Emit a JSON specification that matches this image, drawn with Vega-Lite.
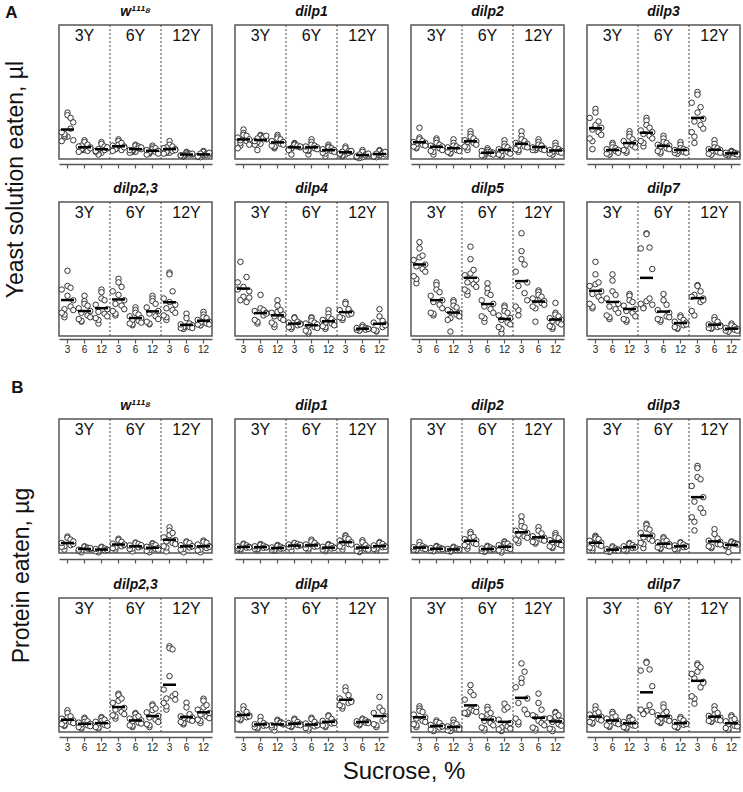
{
  "$schema": "https://vega.github.io/schema/vega-lite/v6.json",
  "padding": {"left": 5, "top": 4, "right": 2, "bottom": 2},
  "title": {"text": "Sucrose, %", "orient": "bottom", "anchor": "middle", "fontSize": 24, "fontWeight": "normal", "dx": 30, "offset": 8},
  "datasets": {
    "yeast": [
      {"gene": "w¹¹¹⁸", "age": "3Y", "cat": "3Y|3", "v": [5.2, 2.4, 4.6, 3.0, 2.1, 4.9, 2.6, 3.4, 2.0, 4.1, 2.5, 2.8]},
      {"gene": "w¹¹¹⁸", "age": "3Y", "cat": "3Y|6", "v": [2.1, 1.0, 1.6, 0.8, 1.3, 1.9, 1.1, 0.9, 1.4, 1.2, 1.0, 1.5]},
      {"gene": "w¹¹¹⁸", "age": "3Y", "cat": "3Y|12", "v": [1.9, 0.6, 1.4, 0.8, 1.2, 1.7, 0.5, 1.0, 0.9, 1.3, 0.7, 1.1]},
      {"gene": "w¹¹¹⁸", "age": "6Y", "cat": "6Y|3", "v": [2.2, 1.1, 1.8, 0.9, 1.4, 2.0, 1.2, 1.0, 1.5, 1.3, 1.6, 1.1]},
      {"gene": "w¹¹¹⁸", "age": "6Y", "cat": "6Y|6", "v": [1.6, 0.8, 1.4, 0.7, 1.1, 1.5, 0.9, 1.2, 1.0, 1.3, 0.8, 1.0]},
      {"gene": "w¹¹¹⁸", "age": "6Y", "cat": "6Y|12", "v": [1.5, 0.6, 1.2, 0.5, 0.9, 1.3, 0.7, 0.8, 1.0, 0.6, 1.1, 0.8]},
      {"gene": "w¹¹¹⁸", "age": "12Y", "cat": "12Y|3", "v": [2.0, 0.7, 1.4, 0.6, 1.1, 1.6, 0.8, 0.9, 1.2, 1.0, 0.7, 1.3]},
      {"gene": "w¹¹¹⁸", "age": "12Y", "cat": "12Y|6", "v": [0.8, 0.3, 0.6, 0.4, 0.5, 0.7, 0.3, 0.5, 0.4, 0.6, 0.5, 0.4]},
      {"gene": "w¹¹¹⁸", "age": "12Y", "cat": "12Y|12", "v": [0.9, 0.2, 0.6, 0.3, 0.5, 0.8, 0.4, 0.5, 0.3, 0.7, 0.4, 0.6]},
      {"gene": "dilp1", "age": "3Y", "cat": "3Y|3", "v": [3.3, 1.5, 2.6, 1.2, 2.2, 2.9, 1.8, 2.0, 2.4, 1.6, 2.7, 2.1]},
      {"gene": "dilp1", "age": "3Y", "cat": "3Y|6", "v": [2.7, 1.0, 2.5, 1.6, 2.2, 2.6, 1.9, 2.4, 2.0, 2.6, 1.7, 2.3]},
      {"gene": "dilp1", "age": "3Y", "cat": "3Y|12", "v": [2.7, 1.2, 2.2, 1.5, 1.9, 2.5, 1.3, 1.7, 2.0, 1.6, 2.3, 1.4]},
      {"gene": "dilp1", "age": "6Y", "cat": "6Y|3", "v": [1.8, 0.5, 1.4, 1.1, 1.3, 1.7, 1.2, 1.5, 1.0, 1.4, 1.6, 1.2]},
      {"gene": "dilp1", "age": "6Y", "cat": "6Y|6", "v": [2.2, 0.5, 1.5, 1.0, 1.3, 1.9, 0.9, 1.2, 1.4, 1.1, 1.6, 1.0]},
      {"gene": "dilp1", "age": "6Y", "cat": "6Y|12", "v": [1.6, 0.3, 1.2, 0.7, 1.0, 1.4, 0.6, 0.9, 1.1, 0.8, 1.3, 0.9]},
      {"gene": "dilp1", "age": "12Y", "cat": "12Y|3", "v": [1.4, 0.3, 0.9, 0.5, 0.8, 1.2, 0.4, 0.7, 0.6, 0.9, 0.5, 0.8]},
      {"gene": "dilp1", "age": "12Y", "cat": "12Y|6", "v": [1.0, 0.1, 0.5, 0.2, 0.4, 0.8, 0.3, 0.4, 0.3, 0.6, 0.2, 0.5]},
      {"gene": "dilp1", "age": "12Y", "cat": "12Y|12", "v": [1.0, 0.2, 0.7, 0.3, 0.5, 0.9, 0.4, 0.6, 0.3, 0.8, 0.4, 0.6]},
      {"gene": "dilp2", "age": "3Y", "cat": "3Y|3", "v": [3.5, 1.2, 2.0, 1.4, 1.8, 2.4, 1.3, 1.6, 1.9, 1.5, 2.2, 1.7]},
      {"gene": "dilp2", "age": "3Y", "cat": "3Y|6", "v": [2.3, 0.5, 1.6, 0.9, 1.4, 2.1, 0.8, 1.2, 1.5, 1.0, 1.8, 1.3]},
      {"gene": "dilp2", "age": "3Y", "cat": "3Y|12", "v": [2.2, 0.6, 1.4, 0.8, 1.2, 1.8, 0.7, 1.0, 1.3, 0.9, 1.5, 1.1]},
      {"gene": "dilp2", "age": "6Y", "cat": "6Y|3", "v": [3.1, 1.0, 2.3, 1.4, 2.0, 2.8, 1.3, 1.8, 2.1, 1.6, 2.5, 1.9]},
      {"gene": "dilp2", "age": "6Y", "cat": "6Y|6", "v": [1.2, 0.3, 0.8, 0.4, 0.7, 1.0, 0.5, 0.6, 0.9, 0.5, 0.8, 0.7]},
      {"gene": "dilp2", "age": "6Y", "cat": "6Y|12", "v": [2.1, 0.3, 1.3, 0.5, 1.0, 1.7, 0.4, 0.8, 1.1, 0.6, 1.4, 0.9]},
      {"gene": "dilp2", "age": "12Y", "cat": "12Y|3", "v": [3.1, 0.8, 2.0, 1.1, 1.7, 2.6, 1.0, 1.4, 1.8, 1.3, 2.2, 1.5]},
      {"gene": "dilp2", "age": "12Y", "cat": "12Y|6", "v": [2.2, 1.0, 1.5, 1.0, 1.2, 1.9, 1.0, 1.1, 1.3, 1.0, 1.6, 1.2]},
      {"gene": "dilp2", "age": "12Y", "cat": "12Y|12", "v": [1.8, 0.5, 1.1, 0.6, 0.9, 1.5, 0.5, 0.8, 1.0, 0.7, 1.2, 0.8]},
      {"gene": "dilp3", "age": "3Y", "cat": "3Y|3", "v": [5.6, 1.1, 4.2, 2.3, 3.5, 5.2, 2.0, 3.0, 4.6, 2.7, 3.8, 3.3]},
      {"gene": "dilp3", "age": "3Y", "cat": "3Y|6", "v": [1.8, 0.5, 1.2, 0.6, 1.0, 1.6, 0.5, 0.9, 1.1, 0.7, 1.3, 0.8]},
      {"gene": "dilp3", "age": "3Y", "cat": "3Y|12", "v": [3.1, 0.7, 2.2, 1.0, 1.8, 2.8, 0.9, 1.5, 2.0, 1.3, 2.5, 1.6]},
      {"gene": "dilp3", "age": "6Y", "cat": "6Y|3", "v": [4.6, 1.4, 3.5, 2.0, 3.0, 4.3, 1.8, 2.6, 3.2, 2.3, 3.8, 2.8]},
      {"gene": "dilp3", "age": "6Y", "cat": "6Y|6", "v": [2.6, 0.6, 1.8, 0.9, 1.5, 2.3, 0.8, 1.2, 1.6, 1.1, 1.9, 1.4]},
      {"gene": "dilp3", "age": "6Y", "cat": "6Y|12", "v": [1.9, 0.6, 1.1, 0.7, 1.0, 1.6, 0.6, 0.8, 1.0, 0.7, 1.2, 0.9]},
      {"gene": "dilp3", "age": "12Y", "cat": "12Y|3", "v": [7.5, 1.8, 5.8, 3.0, 4.5, 7.2, 2.5, 3.8, 6.3, 3.4, 5.2, 4.2]},
      {"gene": "dilp3", "age": "12Y", "cat": "12Y|6", "v": [2.1, 0.5, 1.2, 0.6, 1.0, 1.7, 0.5, 0.8, 1.1, 0.7, 1.3, 0.9]},
      {"gene": "dilp3", "age": "12Y", "cat": "12Y|12", "v": [0.9, 0.4, 0.7, 0.5, 0.6, 0.9, 0.4, 0.6, 0.7, 0.5, 0.8, 0.6]},
      {"gene": "dilp2,3", "age": "3Y", "cat": "3Y|3", "v": [7.3, 2.1, 5.4, 2.6, 4.0, 5.6, 2.4, 3.3, 5.2, 2.9, 4.5, 3.0]},
      {"gene": "dilp2,3", "age": "3Y", "cat": "3Y|6", "v": [4.5, 1.6, 3.4, 1.9, 2.8, 3.9, 1.7, 2.3, 3.1, 2.1, 3.6, 2.6]},
      {"gene": "dilp2,3", "age": "3Y", "cat": "3Y|12", "v": [5.2, 1.4, 4.0, 2.0, 3.0, 4.9, 1.8, 2.5, 3.5, 2.2, 4.2, 2.7]},
      {"gene": "dilp2,3", "age": "6Y", "cat": "6Y|3", "v": [6.4, 2.3, 5.5, 2.8, 4.0, 6.0, 2.5, 3.4, 5.0, 3.0, 4.6, 3.6]},
      {"gene": "dilp2,3", "age": "6Y", "cat": "6Y|6", "v": [3.2, 1.2, 2.4, 1.4, 2.0, 2.9, 1.3, 1.7, 2.2, 1.5, 2.6, 1.8]},
      {"gene": "dilp2,3", "age": "6Y", "cat": "6Y|12", "v": [4.5, 1.3, 3.6, 1.6, 2.8, 4.2, 1.4, 2.2, 3.2, 1.9, 3.9, 2.5]},
      {"gene": "dilp2,3", "age": "12Y", "cat": "12Y|3", "v": [7.1, 1.8, 5.0, 2.3, 3.5, 6.9, 2.1, 2.9, 4.2, 2.6, 3.8, 3.1]},
      {"gene": "dilp2,3", "age": "12Y", "cat": "12Y|6", "v": [2.5, 0.8, 1.4, 0.9, 1.2, 2.0, 0.8, 1.0, 1.3, 0.9, 1.1, 1.0]},
      {"gene": "dilp2,3", "age": "12Y", "cat": "12Y|12", "v": [2.7, 1.2, 2.0, 1.3, 1.6, 2.4, 1.2, 1.4, 1.8, 1.3, 2.1, 1.5]},
      {"gene": "dilp4", "age": "3Y", "cat": "3Y|3", "v": [4.4, 8.3, 3.8, 6.0, 4.3, 5.5, 4.0, 6.6, 5.2, 5.0]},
      {"gene": "dilp4", "age": "3Y", "cat": "3Y|6", "v": [4.6, 1.4, 2.9, 1.8, 2.6, 3.1, 1.6, 2.3, 2.8, 2.5]},
      {"gene": "dilp4", "age": "3Y", "cat": "3Y|12", "v": [4.0, 1.0, 2.9, 1.5, 2.4, 3.4, 1.3, 2.0, 2.6, 1.8, 2.7, 2.2]},
      {"gene": "dilp4", "age": "6Y", "cat": "6Y|3", "v": [2.1, 0.8, 1.6, 1.0, 1.4, 2.0, 1.0, 1.2, 1.5, 1.3]},
      {"gene": "dilp4", "age": "6Y", "cat": "6Y|6", "v": [2.1, 0.3, 1.5, 0.6, 1.3, 2.0, 0.5, 1.0, 1.4, 0.9, 1.7, 1.2]},
      {"gene": "dilp4", "age": "6Y", "cat": "6Y|12", "v": [2.9, 0.8, 1.9, 1.1, 1.6, 2.5, 1.0, 1.4, 1.8, 1.2, 2.1, 1.5]},
      {"gene": "dilp4", "age": "12Y", "cat": "12Y|3", "v": [3.8, 1.8, 3.0, 2.1, 2.6, 3.6, 2.0, 2.4, 2.9, 2.5]},
      {"gene": "dilp4", "age": "12Y", "cat": "12Y|6", "v": [1.2, 0.6, 0.9, 0.7, 0.8, 1.0, 0.6, 0.7, 0.9, 0.8]},
      {"gene": "dilp4", "age": "12Y", "cat": "12Y|12", "v": [3.0, 0.5, 1.7, 0.7, 1.3, 2.2, 0.6, 1.0, 1.5, 1.2]},
      {"gene": "dilp5", "age": "3Y", "cat": "3Y|3", "v": [10.5, 5.9, 9.0, 6.7, 8.0, 9.8, 6.4, 7.5, 8.5, 7.2, 8.8, 7.8]},
      {"gene": "dilp5", "age": "3Y", "cat": "3Y|6", "v": [6.0, 2.3, 4.9, 2.6, 4.0, 5.7, 2.5, 3.5, 4.5, 3.1, 5.2, 3.8]},
      {"gene": "dilp5", "age": "3Y", "cat": "3Y|12", "v": [4.0, 0.5, 3.2, 1.8, 2.6, 3.8, 2.0, 2.4, 2.9, 2.2, 3.4, 2.7]},
      {"gene": "dilp5", "age": "6Y", "cat": "6Y|3", "v": [10.0, 4.6, 7.4, 5.2, 6.3, 8.6, 5.0, 5.8, 6.8, 5.5, 7.0, 6.0]},
      {"gene": "dilp5", "age": "6Y", "cat": "6Y|6", "v": [5.9, 1.6, 4.6, 2.2, 3.6, 5.3, 2.0, 3.0, 4.0, 2.6, 4.8, 3.3]},
      {"gene": "dilp5", "age": "6Y", "cat": "6Y|12", "v": [3.4, 0.3, 2.6, 1.0, 2.0, 3.2, 0.8, 1.5, 2.3, 1.3, 2.8, 1.8]},
      {"gene": "dilp5", "age": "12Y", "cat": "12Y|3", "v": [11.5, 2.3, 8.0, 3.3, 6.0, 9.5, 2.9, 4.8, 7.2, 4.0, 8.6, 5.6]},
      {"gene": "dilp5", "age": "12Y", "cat": "12Y|6", "v": [5.1, 1.6, 4.4, 3.3, 3.9, 4.9, 3.1, 3.7, 4.2, 3.5, 4.6, 4.0]},
      {"gene": "dilp5", "age": "12Y", "cat": "12Y|12", "v": [3.7, 0.8, 2.2, 1.1, 1.8, 2.6, 1.0, 1.5, 2.0, 1.3, 2.4, 1.7]},
      {"gene": "dilp7", "age": "3Y", "cat": "3Y|3", "v": [8.3, 3.1, 6.0, 3.6, 5.0, 6.9, 3.3, 4.4, 5.6, 4.0, 5.8, 4.7]},
      {"gene": "dilp7", "age": "3Y", "cat": "3Y|6", "v": [6.9, 1.9, 4.6, 2.3, 3.6, 6.2, 2.1, 3.0, 4.2, 2.6, 5.0, 3.3]},
      {"gene": "dilp7", "age": "3Y", "cat": "3Y|12", "v": [4.7, 1.6, 3.8, 1.9, 3.0, 4.5, 1.8, 2.6, 3.4, 2.2, 4.0, 2.8]},
      {"gene": "dilp7", "age": "6Y", "cat": "6Y|3", "v": [11.5, 3.2, 9.9, 3.6, 7.5, 11.4, 3.1, 4.2, 9.8, 3.5, 3.9]},
      {"gene": "dilp7", "age": "6Y", "cat": "6Y|6", "v": [4.7, 1.6, 3.5, 1.9, 2.6, 4.0, 1.8, 2.2, 2.9, 2.1]},
      {"gene": "dilp7", "age": "6Y", "cat": "6Y|12", "v": [2.3, 0.8, 1.8, 1.0, 1.5, 2.1, 0.9, 1.2, 1.6, 1.3]},
      {"gene": "dilp7", "age": "12Y", "cat": "12Y|3", "v": [5.7, 2.3, 5.0, 2.8, 4.2, 5.6, 4.6, 3.8, 4.4, 4.0]},
      {"gene": "dilp7", "age": "12Y", "cat": "12Y|6", "v": [2.1, 0.8, 1.6, 0.9, 1.2, 1.8, 0.9, 1.0, 1.3, 1.1]},
      {"gene": "dilp7", "age": "12Y", "cat": "12Y|12", "v": [1.4, 0.5, 1.0, 0.6, 0.8, 1.2, 0.5, 0.7, 0.9, 0.6]}
    ],
    "protein": [
      {"gene": "w¹¹¹⁸", "age": "3Y", "cat": "3Y|3", "v": [74, 15, 60, 28, 40, 68, 30, 35, 45, 52]},
      {"gene": "w¹¹¹⁸", "age": "3Y", "cat": "3Y|6", "v": [30, 3, 24, 10, 18, 28, 12, 20, 15, 22]},
      {"gene": "w¹¹¹⁸", "age": "3Y", "cat": "3Y|12", "v": [28, 3, 20, 8, 15, 25, 10, 12, 18, 14]},
      {"gene": "w¹¹¹⁸", "age": "6Y", "cat": "6Y|3", "v": [64, 15, 50, 22, 36, 58, 25, 30, 42, 38]},
      {"gene": "w¹¹¹⁸", "age": "6Y", "cat": "6Y|6", "v": [47, 7, 40, 18, 30, 44, 20, 25, 34, 35]},
      {"gene": "w¹¹¹⁸", "age": "6Y", "cat": "6Y|12", "v": [44, 3, 35, 10, 22, 40, 12, 18, 28, 15, 30, 25]},
      {"gene": "w¹¹¹⁸", "age": "12Y", "cat": "12Y|3", "v": [115, 7, 90, 30, 58, 100, 25, 45, 70, 40, 80, 52]},
      {"gene": "w¹¹¹⁸", "age": "12Y", "cat": "12Y|6", "v": [52, 3, 44, 15, 30, 48, 18, 25, 35, 30]},
      {"gene": "w¹¹¹⁸", "age": "12Y", "cat": "12Y|12", "v": [56, 3, 46, 12, 30, 50, 15, 22, 38, 28]},
      {"gene": "dilp1", "age": "3Y", "cat": "3Y|3", "v": [42, 12, 34, 20, 27, 38, 18, 24, 30, 25]},
      {"gene": "dilp1", "age": "3Y", "cat": "3Y|6", "v": [40, 12, 33, 19, 26, 36, 18, 23, 30, 25]},
      {"gene": "dilp1", "age": "3Y", "cat": "3Y|12", "v": [36, 10, 28, 15, 22, 32, 14, 19, 25, 21]},
      {"gene": "dilp1", "age": "6Y", "cat": "6Y|3", "v": [45, 12, 40, 25, 34, 44, 28, 30, 38, 36]},
      {"gene": "dilp1", "age": "6Y", "cat": "6Y|6", "v": [60, 12, 45, 22, 34, 52, 20, 28, 38, 30]},
      {"gene": "dilp1", "age": "6Y", "cat": "6Y|12", "v": [40, 8, 32, 15, 24, 36, 14, 20, 28, 23]},
      {"gene": "dilp1", "age": "12Y", "cat": "12Y|3", "v": [79, 15, 62, 30, 48, 75, 28, 40, 56, 38, 66, 45]},
      {"gene": "dilp1", "age": "12Y", "cat": "12Y|6", "v": [57, 4, 35, 10, 24, 48, 8, 18, 28, 15, 22, 20]},
      {"gene": "dilp1", "age": "12Y", "cat": "12Y|12", "v": [49, 12, 40, 18, 30, 45, 20, 26, 34, 28]},
      {"gene": "dilp2", "age": "3Y", "cat": "3Y|3", "v": [49, 12, 30, 15, 24, 35, 14, 20, 26, 18]},
      {"gene": "dilp2", "age": "3Y", "cat": "3Y|6", "v": [32, 8, 24, 12, 19, 28, 10, 16, 22, 18]},
      {"gene": "dilp2", "age": "3Y", "cat": "3Y|12", "v": [28, 6, 20, 10, 16, 24, 9, 13, 18, 15]},
      {"gene": "dilp2", "age": "6Y", "cat": "6Y|3", "v": [94, 19, 72, 35, 56, 85, 30, 45, 62, 40, 68, 50]},
      {"gene": "dilp2", "age": "6Y", "cat": "6Y|6", "v": [32, 5, 24, 10, 18, 28, 8, 15, 20, 17]},
      {"gene": "dilp2", "age": "6Y", "cat": "6Y|12", "v": [52, 2, 42, 12, 30, 48, 10, 22, 35, 18, 40, 28]},
      {"gene": "dilp2", "age": "12Y", "cat": "12Y|3", "v": [164, 45, 115, 60, 90, 140, 55, 75, 100, 68, 120, 82]},
      {"gene": "dilp2", "age": "12Y", "cat": "12Y|6", "v": [116, 42, 88, 50, 68, 100, 48, 60, 75, 55]},
      {"gene": "dilp2", "age": "12Y", "cat": "12Y|12", "v": [89, 22, 66, 30, 50, 80, 28, 40, 58, 35, 70, 48]},
      {"gene": "dilp3", "age": "3Y", "cat": "3Y|3", "v": [77, 12, 62, 25, 46, 72, 22, 38, 55, 32, 65, 44]},
      {"gene": "dilp3", "age": "3Y", "cat": "3Y|6", "v": [30, 5, 20, 8, 15, 25, 7, 12, 17, 11]},
      {"gene": "dilp3", "age": "3Y", "cat": "3Y|12", "v": [45, 8, 35, 15, 27, 40, 14, 22, 30, 25]},
      {"gene": "dilp3", "age": "6Y", "cat": "6Y|3", "v": [131, 22, 105, 45, 78, 125, 40, 62, 90, 55, 110, 70]},
      {"gene": "dilp3", "age": "6Y", "cat": "6Y|6", "v": [71, 18, 55, 25, 40, 65, 22, 34, 48, 30, 52, 38]},
      {"gene": "dilp3", "age": "6Y", "cat": "6Y|12", "v": [48, 12, 38, 18, 30, 45, 20, 26, 34, 29]},
      {"gene": "dilp3", "age": "12Y", "cat": "12Y|3", "v": [390, 101, 330, 160, 250, 380, 140, 200, 300, 180, 340, 230]},
      {"gene": "dilp3", "age": "12Y", "cat": "12Y|6", "v": [107, 22, 65, 30, 50, 85, 28, 40, 55, 38]},
      {"gene": "dilp3", "age": "12Y", "cat": "12Y|12", "v": [52, 4, 45, 30, 40, 48, 28, 42, 35, 38]},
      {"gene": "dilp2,3", "age": "3Y", "cat": "3Y|3", "v": [97, 27, 70, 35, 52, 85, 32, 45, 60, 40, 65, 50]},
      {"gene": "dilp2,3", "age": "3Y", "cat": "3Y|6", "v": [64, 15, 48, 22, 36, 58, 20, 30, 42, 26, 45, 34]},
      {"gene": "dilp2,3", "age": "3Y", "cat": "3Y|12", "v": [67, 15, 55, 22, 40, 62, 20, 32, 46, 28, 50, 38]},
      {"gene": "dilp2,3", "age": "6Y", "cat": "6Y|3", "v": [172, 60, 150, 75, 108, 165, 70, 90, 130, 80, 140, 100]},
      {"gene": "dilp2,3", "age": "6Y", "cat": "6Y|6", "v": [85, 22, 70, 30, 52, 80, 28, 42, 60, 38, 65, 48]},
      {"gene": "dilp2,3", "age": "6Y", "cat": "6Y|12", "v": [124, 22, 105, 35, 72, 118, 30, 55, 88, 45, 98, 65]},
      {"gene": "dilp2,3", "age": "12Y", "cat": "12Y|3", "v": [384, 100, 370, 130, 170, 250, 115, 160, 190, 145, 375, 150]},
      {"gene": "dilp2,3", "age": "12Y", "cat": "12Y|6", "v": [131, 34, 80, 45, 65, 110, 40, 55, 70, 50, 60, 62]},
      {"gene": "dilp2,3", "age": "12Y", "cat": "12Y|12", "v": [149, 40, 120, 55, 85, 140, 50, 70, 100, 62, 110, 78]},
      {"gene": "dilp4", "age": "3Y", "cat": "3Y|3", "v": [115, 52, 90, 60, 74, 100, 58, 66, 80, 70]},
      {"gene": "dilp4", "age": "3Y", "cat": "3Y|6", "v": [67, 15, 40, 22, 32, 50, 20, 28, 35, 30]},
      {"gene": "dilp4", "age": "3Y", "cat": "3Y|12", "v": [55, 7, 45, 20, 34, 50, 22, 40, 30, 38]},
      {"gene": "dilp4", "age": "6Y", "cat": "6Y|3", "v": [60, 22, 45, 28, 36, 55, 26, 32, 40, 30]},
      {"gene": "dilp4", "age": "6Y", "cat": "6Y|6", "v": [64, 7, 45, 18, 33, 58, 15, 25, 38, 30]},
      {"gene": "dilp4", "age": "6Y", "cat": "6Y|12", "v": [75, 22, 58, 30, 44, 70, 28, 38, 50, 40]},
      {"gene": "dilp4", "age": "12Y", "cat": "12Y|3", "v": [200, 105, 165, 120, 140, 185, 115, 130, 150, 135]},
      {"gene": "dilp4", "age": "12Y", "cat": "12Y|6", "v": [60, 30, 52, 38, 45, 56, 35, 42, 48, 40]},
      {"gene": "dilp4", "age": "12Y", "cat": "12Y|12", "v": [157, 22, 95, 35, 70, 110, 30, 50, 85, 60]},
      {"gene": "dilp5", "age": "3Y", "cat": "3Y|3", "v": [115, 22, 90, 35, 65, 105, 30, 50, 78, 45, 95, 60]},
      {"gene": "dilp5", "age": "3Y", "cat": "3Y|6", "v": [52, 4, 40, 12, 26, 45, 10, 20, 32, 25]},
      {"gene": "dilp5", "age": "3Y", "cat": "3Y|12", "v": [55, 4, 35, 8, 20, 42, 6, 15, 25, 12, 30, 18]},
      {"gene": "dilp5", "age": "6Y", "cat": "6Y|3", "v": [210, 80, 165, 85, 110, 180, 82, 95, 145, 90, 100, 88]},
      {"gene": "dilp5", "age": "6Y", "cat": "6Y|6", "v": [112, 7, 85, 20, 58, 100, 15, 40, 70, 30, 78, 50]},
      {"gene": "dilp5", "age": "6Y", "cat": "6Y|12", "v": [127, 4, 110, 12, 40, 100, 8, 25, 55, 15, 30, 20]},
      {"gene": "dilp5", "age": "12Y", "cat": "12Y|3", "v": [307, 34, 270, 60, 150, 240, 45, 100, 200, 80, 220, 130]},
      {"gene": "dilp5", "age": "12Y", "cat": "12Y|6", "v": [172, 7, 100, 20, 60, 130, 15, 40, 75, 30, 50, 68]},
      {"gene": "dilp5", "age": "12Y", "cat": "12Y|12", "v": [90, 4, 75, 15, 50, 85, 12, 35, 62, 28, 68, 45]},
      {"gene": "dilp7", "age": "3Y", "cat": "3Y|3", "v": [115, 37, 88, 45, 68, 100, 42, 58, 78, 52, 82, 62]},
      {"gene": "dilp7", "age": "3Y", "cat": "3Y|6", "v": [90, 22, 70, 30, 50, 82, 28, 40, 60, 35, 65, 48]},
      {"gene": "dilp7", "age": "3Y", "cat": "3Y|12", "v": [67, 15, 55, 22, 38, 62, 20, 30, 45, 28, 50, 40]},
      {"gene": "dilp7", "age": "6Y", "cat": "6Y|3", "v": [315, 85, 280, 100, 205, 310, 80, 120, 275, 90, 95]},
      {"gene": "dilp7", "age": "6Y", "cat": "6Y|6", "v": [124, 40, 90, 48, 65, 110, 45, 55, 75, 50, 80, 60]},
      {"gene": "dilp7", "age": "6Y", "cat": "6Y|12", "v": [67, 19, 52, 25, 38, 60, 22, 32, 45, 36]},
      {"gene": "dilp7", "age": "12Y", "cat": "12Y|3", "v": [307, 127, 290, 160, 225, 300, 150, 200, 260, 220, 270, 240]},
      {"gene": "dilp7", "age": "12Y", "cat": "12Y|6", "v": [115, 45, 85, 50, 65, 100, 48, 55, 72, 52, 78, 60]},
      {"gene": "dilp7", "age": "12Y", "cat": "12Y|12", "v": [75, 10, 58, 18, 38, 68, 15, 28, 48, 25, 52, 35]}
    ]
  },
  "vconcat": [
    {
      "title": {"text": "A", "anchor": "start", "fontSize": 17, "fontWeight": "bold", "offset": -17},
      "vconcat": [
        {
          "title": {"text": "Yeast solution eaten, µl", "orient": "left", "anchor": "middle", "fontSize": 23, "fontWeight": "normal", "offset": 28},
          "spacing": 13,
          "vconcat": [
            {
              "data": {"name": "yeast"},
              "transform": [{"filter": {"field": "gene", "oneOf": ["w¹¹¹⁸", "dilp1", "dilp2", "dilp3"]}}],
              "facet": {"column": {"field": "gene", "type": "nominal", "sort": ["w¹¹¹⁸", "dilp1", "dilp2", "dilp3"], "header": {"title": null}}},
              "spacing": {"column": 17},
              "spec": {
                "width": 153,
                "height": 134,
                "encoding": {
                  "x": {"field": "cat", "type": "nominal", "scale": {"domain": ["3Y|3", "3Y|6", "3Y|12", "6Y|3", "6Y|6", "6Y|12", "12Y|3", "12Y|6", "12Y|12"], "paddingInner": 0, "paddingOuter": 0}, "axis": {"title": null, "labels": false}}
                },
                "layer": [
                  {"transform": [{"filter": {"field": "cat", "oneOf": ["3Y|12", "6Y|12"]}}], "mark": {"type": "rule", "strokeDash": [2, 2], "color": "#444", "strokeWidth": 1},
                   "encoding": {"x": {"field": "cat", "type": "nominal", "bandPosition": 1, "scale": {"domain": ["3Y|3", "3Y|6", "3Y|12", "6Y|3", "6Y|6", "6Y|12", "12Y|3", "12Y|6", "12Y|12"], "paddingInner": 0, "paddingOuter": 0}, "axis": {"title": null, "labels": false}}}},
                  {"transform": [{"filter": {"field": "cat", "oneOf": ["3Y|6", "6Y|6", "12Y|6"]}}], "mark": {"type": "text", "fontSize": 16, "baseline": "top", "dy": 3, "color": "#111"},
                   "encoding": {"y": {"datum": 15, "type": "quantitative", "axis": null}, "text": {"field": "age"}}},
                  {"transform": [{"flatten": ["v"]}, {"window": [{"op": "row_number", "as": "rep"}], "groupby": ["gene", "cat"]}, {"filter": {"field": "rep", "oneOf": [1, 6, 11]}}], "mark": {"type": "circle", "fill": "white", "stroke": "#333", "strokeWidth": 1, "size": 30, "opacity": 1},
                   "encoding": {"x": {"field": "cat", "type": "nominal", "bandPosition": 0.5, "scale": {"domain": ["3Y|3", "3Y|6", "3Y|12", "6Y|3", "6Y|6", "6Y|12", "12Y|3", "12Y|6", "12Y|12"], "paddingInner": 0, "paddingOuter": 0}, "axis": {"title": null, "labels": false}}, "y": {"field": "v", "type": "quantitative", "scale": {"domain": [0, 15], "nice": false}, "axis": {"title": null, "values": [0, 5, 10, 15]}}}},
                  {"transform": [{"flatten": ["v"]}, {"window": [{"op": "row_number", "as": "rep"}], "groupby": ["gene", "cat"]}, {"filter": {"field": "rep", "oneOf": [2, 7, 12]}}], "mark": {"type": "circle", "fill": "white", "stroke": "#333", "strokeWidth": 1, "size": 30, "opacity": 1},
                   "encoding": {"x": {"field": "cat", "type": "nominal", "bandPosition": 0.32, "scale": {"domain": ["3Y|3", "3Y|6", "3Y|12", "6Y|3", "6Y|6", "6Y|12", "12Y|3", "12Y|6", "12Y|12"], "paddingInner": 0, "paddingOuter": 0}, "axis": {"title": null, "labels": false}}, "y": {"field": "v", "type": "quantitative", "axis": {"title": null, "values": [0, 5, 10, 15]}}}},
                  {"transform": [{"flatten": ["v"]}, {"window": [{"op": "row_number", "as": "rep"}], "groupby": ["gene", "cat"]}, {"filter": {"field": "rep", "oneOf": [3, 8]}}], "mark": {"type": "circle", "fill": "white", "stroke": "#333", "strokeWidth": 1, "size": 30, "opacity": 1},
                   "encoding": {"x": {"field": "cat", "type": "nominal", "bandPosition": 0.68, "scale": {"domain": ["3Y|3", "3Y|6", "3Y|12", "6Y|3", "6Y|6", "6Y|12", "12Y|3", "12Y|6", "12Y|12"], "paddingInner": 0, "paddingOuter": 0}, "axis": {"title": null, "labels": false}}, "y": {"field": "v", "type": "quantitative", "axis": {"title": null, "values": [0, 5, 10, 15]}}}},
                  {"transform": [{"flatten": ["v"]}, {"window": [{"op": "row_number", "as": "rep"}], "groupby": ["gene", "cat"]}, {"filter": {"field": "rep", "oneOf": [4, 9]}}], "mark": {"type": "circle", "fill": "white", "stroke": "#333", "strokeWidth": 1, "size": 30, "opacity": 1},
                   "encoding": {"x": {"field": "cat", "type": "nominal", "bandPosition": 0.16, "scale": {"domain": ["3Y|3", "3Y|6", "3Y|12", "6Y|3", "6Y|6", "6Y|12", "12Y|3", "12Y|6", "12Y|12"], "paddingInner": 0, "paddingOuter": 0}, "axis": {"title": null, "labels": false}}, "y": {"field": "v", "type": "quantitative", "axis": {"title": null, "values": [0, 5, 10, 15]}}}},
                  {"transform": [{"flatten": ["v"]}, {"window": [{"op": "row_number", "as": "rep"}], "groupby": ["gene", "cat"]}, {"filter": {"field": "rep", "oneOf": [5, 10]}}], "mark": {"type": "circle", "fill": "white", "stroke": "#333", "strokeWidth": 1, "size": 30, "opacity": 1},
                   "encoding": {"x": {"field": "cat", "type": "nominal", "bandPosition": 0.84, "scale": {"domain": ["3Y|3", "3Y|6", "3Y|12", "6Y|3", "6Y|6", "6Y|12", "12Y|3", "12Y|6", "12Y|12"], "paddingInner": 0, "paddingOuter": 0}, "axis": {"title": null, "labels": false}}, "y": {"field": "v", "type": "quantitative", "axis": {"title": null, "values": [0, 5, 10, 15]}}}},
                  {"transform": [{"flatten": ["v"]}], "mark": {"type": "tick", "color": "black", "thickness": 2.5, "size": 13},
                   "encoding": {"y": {"aggregate": "mean", "field": "v", "type": "quantitative", "axis": null}}}
                ]
              }
            },
            {
              "data": {"name": "yeast"},
              "transform": [{"filter": {"field": "gene", "oneOf": ["dilp2,3", "dilp4", "dilp5", "dilp7"]}}],
              "facet": {"column": {"field": "gene", "type": "nominal", "sort": ["dilp2,3", "dilp4", "dilp5", "dilp7"], "header": {"title": null}}},
              "spacing": {"column": 17},
              "spec": {
                "width": 153,
                "height": 134,
                "encoding": {
                  "x": {"field": "cat", "type": "nominal", "scale": {"domain": ["3Y|3", "3Y|6", "3Y|12", "6Y|3", "6Y|6", "6Y|12", "12Y|3", "12Y|6", "12Y|12"], "paddingInner": 0, "paddingOuter": 0}, "axis": {"title": null, "labelAngle": 0, "labelExpr": "split(datum.value, '|')[1]"}}
                },
                "layer": [
                  {"transform": [{"filter": {"field": "cat", "oneOf": ["3Y|12", "6Y|12"]}}], "mark": {"type": "rule", "strokeDash": [2, 2], "color": "#444", "strokeWidth": 1},
                   "encoding": {"x": {"field": "cat", "type": "nominal", "bandPosition": 1, "scale": {"domain": ["3Y|3", "3Y|6", "3Y|12", "6Y|3", "6Y|6", "6Y|12", "12Y|3", "12Y|6", "12Y|12"], "paddingInner": 0, "paddingOuter": 0}, "axis": {"title": null, "labelAngle": 0, "labelExpr": "split(datum.value, '|')[1]"}}}},
                  {"transform": [{"filter": {"field": "cat", "oneOf": ["3Y|6", "6Y|6", "12Y|6"]}}], "mark": {"type": "text", "fontSize": 16, "baseline": "top", "dy": 3, "color": "#111"},
                   "encoding": {"y": {"datum": 15, "type": "quantitative", "axis": null}, "text": {"field": "age"}}},
                  {"transform": [{"flatten": ["v"]}, {"window": [{"op": "row_number", "as": "rep"}], "groupby": ["gene", "cat"]}, {"filter": {"field": "rep", "oneOf": [1, 6, 11]}}], "mark": {"type": "circle", "fill": "white", "stroke": "#333", "strokeWidth": 1, "size": 30, "opacity": 1},
                   "encoding": {"x": {"field": "cat", "type": "nominal", "bandPosition": 0.5, "scale": {"domain": ["3Y|3", "3Y|6", "3Y|12", "6Y|3", "6Y|6", "6Y|12", "12Y|3", "12Y|6", "12Y|12"], "paddingInner": 0, "paddingOuter": 0}, "axis": {"title": null, "labelAngle": 0, "labelExpr": "split(datum.value, '|')[1]"}}, "y": {"field": "v", "type": "quantitative", "scale": {"domain": [0, 15], "nice": false}, "axis": {"title": null, "values": [0, 5, 10, 15]}}}},
                  {"transform": [{"flatten": ["v"]}, {"window": [{"op": "row_number", "as": "rep"}], "groupby": ["gene", "cat"]}, {"filter": {"field": "rep", "oneOf": [2, 7, 12]}}], "mark": {"type": "circle", "fill": "white", "stroke": "#333", "strokeWidth": 1, "size": 30, "opacity": 1},
                   "encoding": {"x": {"field": "cat", "type": "nominal", "bandPosition": 0.32, "scale": {"domain": ["3Y|3", "3Y|6", "3Y|12", "6Y|3", "6Y|6", "6Y|12", "12Y|3", "12Y|6", "12Y|12"], "paddingInner": 0, "paddingOuter": 0}, "axis": {"title": null, "labelAngle": 0, "labelExpr": "split(datum.value, '|')[1]"}}, "y": {"field": "v", "type": "quantitative", "axis": {"title": null, "values": [0, 5, 10, 15]}}}},
                  {"transform": [{"flatten": ["v"]}, {"window": [{"op": "row_number", "as": "rep"}], "groupby": ["gene", "cat"]}, {"filter": {"field": "rep", "oneOf": [3, 8]}}], "mark": {"type": "circle", "fill": "white", "stroke": "#333", "strokeWidth": 1, "size": 30, "opacity": 1},
                   "encoding": {"x": {"field": "cat", "type": "nominal", "bandPosition": 0.68, "scale": {"domain": ["3Y|3", "3Y|6", "3Y|12", "6Y|3", "6Y|6", "6Y|12", "12Y|3", "12Y|6", "12Y|12"], "paddingInner": 0, "paddingOuter": 0}, "axis": {"title": null, "labelAngle": 0, "labelExpr": "split(datum.value, '|')[1]"}}, "y": {"field": "v", "type": "quantitative", "axis": {"title": null, "values": [0, 5, 10, 15]}}}},
                  {"transform": [{"flatten": ["v"]}, {"window": [{"op": "row_number", "as": "rep"}], "groupby": ["gene", "cat"]}, {"filter": {"field": "rep", "oneOf": [4, 9]}}], "mark": {"type": "circle", "fill": "white", "stroke": "#333", "strokeWidth": 1, "size": 30, "opacity": 1},
                   "encoding": {"x": {"field": "cat", "type": "nominal", "bandPosition": 0.16, "scale": {"domain": ["3Y|3", "3Y|6", "3Y|12", "6Y|3", "6Y|6", "6Y|12", "12Y|3", "12Y|6", "12Y|12"], "paddingInner": 0, "paddingOuter": 0}, "axis": {"title": null, "labelAngle": 0, "labelExpr": "split(datum.value, '|')[1]"}}, "y": {"field": "v", "type": "quantitative", "axis": {"title": null, "values": [0, 5, 10, 15]}}}},
                  {"transform": [{"flatten": ["v"]}, {"window": [{"op": "row_number", "as": "rep"}], "groupby": ["gene", "cat"]}, {"filter": {"field": "rep", "oneOf": [5, 10]}}], "mark": {"type": "circle", "fill": "white", "stroke": "#333", "strokeWidth": 1, "size": 30, "opacity": 1},
                   "encoding": {"x": {"field": "cat", "type": "nominal", "bandPosition": 0.84, "scale": {"domain": ["3Y|3", "3Y|6", "3Y|12", "6Y|3", "6Y|6", "6Y|12", "12Y|3", "12Y|6", "12Y|12"], "paddingInner": 0, "paddingOuter": 0}, "axis": {"title": null, "labelAngle": 0, "labelExpr": "split(datum.value, '|')[1]"}}, "y": {"field": "v", "type": "quantitative", "axis": {"title": null, "values": [0, 5, 10, 15]}}}},
                  {"transform": [{"flatten": ["v"]}], "mark": {"type": "tick", "color": "black", "thickness": 2.5, "size": 13},
                   "encoding": {"y": {"aggregate": "mean", "field": "v", "type": "quantitative", "axis": null}}}
                ]
              }
            }
          ]
        }
      ]
    },
    {
      "title": {"text": "B", "anchor": "start", "fontSize": 17, "fontWeight": "bold", "offset": 2},
      "vconcat": [
        {
          "title": {"text": "Protein eaten, µg", "orient": "left", "anchor": "middle", "fontSize": 23, "fontWeight": "normal", "offset": 22},
          "spacing": 14,
          "vconcat": [
            {
              "data": {"name": "protein"},
              "transform": [{"filter": {"field": "gene", "oneOf": ["w¹¹¹⁸", "dilp1", "dilp2", "dilp3"]}}],
              "facet": {"column": {"field": "gene", "type": "nominal", "sort": ["w¹¹¹⁸", "dilp1", "dilp2", "dilp3"], "header": {"title": null}}},
              "spacing": {"column": 17},
              "spec": {
                "width": 153,
                "height": 134,
                "encoding": {
                  "x": {"field": "cat", "type": "nominal", "scale": {"domain": ["3Y|3", "3Y|6", "3Y|12", "6Y|3", "6Y|6", "6Y|12", "12Y|3", "12Y|6", "12Y|12"], "paddingInner": 0, "paddingOuter": 0}, "axis": {"title": null, "labels": false}}
                },
                "layer": [
                  {"transform": [{"filter": {"field": "cat", "oneOf": ["3Y|12", "6Y|12"]}}], "mark": {"type": "rule", "strokeDash": [2, 2], "color": "#444", "strokeWidth": 1},
                   "encoding": {"x": {"field": "cat", "type": "nominal", "bandPosition": 1, "scale": {"domain": ["3Y|3", "3Y|6", "3Y|12", "6Y|3", "6Y|6", "6Y|12", "12Y|3", "12Y|6", "12Y|12"], "paddingInner": 0, "paddingOuter": 0}, "axis": {"title": null, "labels": false}}}},
                  {"transform": [{"filter": {"field": "cat", "oneOf": ["3Y|6", "6Y|6", "12Y|6"]}}], "mark": {"type": "text", "fontSize": 16, "baseline": "top", "dy": 3, "color": "#111"},
                   "encoding": {"y": {"datum": 600, "type": "quantitative", "axis": null}, "text": {"field": "age"}}},
                  {"transform": [{"flatten": ["v"]}, {"window": [{"op": "row_number", "as": "rep"}], "groupby": ["gene", "cat"]}, {"filter": {"field": "rep", "oneOf": [1, 6, 11]}}], "mark": {"type": "circle", "fill": "white", "stroke": "#333", "strokeWidth": 1, "size": 30, "opacity": 1},
                   "encoding": {"x": {"field": "cat", "type": "nominal", "bandPosition": 0.5, "scale": {"domain": ["3Y|3", "3Y|6", "3Y|12", "6Y|3", "6Y|6", "6Y|12", "12Y|3", "12Y|6", "12Y|12"], "paddingInner": 0, "paddingOuter": 0}, "axis": {"title": null, "labels": false}}, "y": {"field": "v", "type": "quantitative", "scale": {"domain": [0, 600], "nice": false}, "axis": {"title": null, "values": [0, 200, 400, 600]}}}},
                  {"transform": [{"flatten": ["v"]}, {"window": [{"op": "row_number", "as": "rep"}], "groupby": ["gene", "cat"]}, {"filter": {"field": "rep", "oneOf": [2, 7, 12]}}], "mark": {"type": "circle", "fill": "white", "stroke": "#333", "strokeWidth": 1, "size": 30, "opacity": 1},
                   "encoding": {"x": {"field": "cat", "type": "nominal", "bandPosition": 0.32, "scale": {"domain": ["3Y|3", "3Y|6", "3Y|12", "6Y|3", "6Y|6", "6Y|12", "12Y|3", "12Y|6", "12Y|12"], "paddingInner": 0, "paddingOuter": 0}, "axis": {"title": null, "labels": false}}, "y": {"field": "v", "type": "quantitative", "axis": {"title": null, "values": [0, 200, 400, 600]}}}},
                  {"transform": [{"flatten": ["v"]}, {"window": [{"op": "row_number", "as": "rep"}], "groupby": ["gene", "cat"]}, {"filter": {"field": "rep", "oneOf": [3, 8]}}], "mark": {"type": "circle", "fill": "white", "stroke": "#333", "strokeWidth": 1, "size": 30, "opacity": 1},
                   "encoding": {"x": {"field": "cat", "type": "nominal", "bandPosition": 0.68, "scale": {"domain": ["3Y|3", "3Y|6", "3Y|12", "6Y|3", "6Y|6", "6Y|12", "12Y|3", "12Y|6", "12Y|12"], "paddingInner": 0, "paddingOuter": 0}, "axis": {"title": null, "labels": false}}, "y": {"field": "v", "type": "quantitative", "axis": {"title": null, "values": [0, 200, 400, 600]}}}},
                  {"transform": [{"flatten": ["v"]}, {"window": [{"op": "row_number", "as": "rep"}], "groupby": ["gene", "cat"]}, {"filter": {"field": "rep", "oneOf": [4, 9]}}], "mark": {"type": "circle", "fill": "white", "stroke": "#333", "strokeWidth": 1, "size": 30, "opacity": 1},
                   "encoding": {"x": {"field": "cat", "type": "nominal", "bandPosition": 0.16, "scale": {"domain": ["3Y|3", "3Y|6", "3Y|12", "6Y|3", "6Y|6", "6Y|12", "12Y|3", "12Y|6", "12Y|12"], "paddingInner": 0, "paddingOuter": 0}, "axis": {"title": null, "labels": false}}, "y": {"field": "v", "type": "quantitative", "axis": {"title": null, "values": [0, 200, 400, 600]}}}},
                  {"transform": [{"flatten": ["v"]}, {"window": [{"op": "row_number", "as": "rep"}], "groupby": ["gene", "cat"]}, {"filter": {"field": "rep", "oneOf": [5, 10]}}], "mark": {"type": "circle", "fill": "white", "stroke": "#333", "strokeWidth": 1, "size": 30, "opacity": 1},
                   "encoding": {"x": {"field": "cat", "type": "nominal", "bandPosition": 0.84, "scale": {"domain": ["3Y|3", "3Y|6", "3Y|12", "6Y|3", "6Y|6", "6Y|12", "12Y|3", "12Y|6", "12Y|12"], "paddingInner": 0, "paddingOuter": 0}, "axis": {"title": null, "labels": false}}, "y": {"field": "v", "type": "quantitative", "axis": {"title": null, "values": [0, 200, 400, 600]}}}},
                  {"transform": [{"flatten": ["v"]}], "mark": {"type": "tick", "color": "black", "thickness": 2.5, "size": 13},
                   "encoding": {"y": {"aggregate": "mean", "field": "v", "type": "quantitative", "axis": null}}}
                ]
              }
            },
            {
              "data": {"name": "protein"},
              "transform": [{"filter": {"field": "gene", "oneOf": ["dilp2,3", "dilp4", "dilp5", "dilp7"]}}],
              "facet": {"column": {"field": "gene", "type": "nominal", "sort": ["dilp2,3", "dilp4", "dilp5", "dilp7"], "header": {"title": null}}},
              "spacing": {"column": 17},
              "spec": {
                "width": 153,
                "height": 134,
                "encoding": {
                  "x": {"field": "cat", "type": "nominal", "scale": {"domain": ["3Y|3", "3Y|6", "3Y|12", "6Y|3", "6Y|6", "6Y|12", "12Y|3", "12Y|6", "12Y|12"], "paddingInner": 0, "paddingOuter": 0}, "axis": {"title": null, "labelAngle": 0, "labelExpr": "split(datum.value, '|')[1]"}}
                },
                "layer": [
                  {"transform": [{"filter": {"field": "cat", "oneOf": ["3Y|12", "6Y|12"]}}], "mark": {"type": "rule", "strokeDash": [2, 2], "color": "#444", "strokeWidth": 1},
                   "encoding": {"x": {"field": "cat", "type": "nominal", "bandPosition": 1, "scale": {"domain": ["3Y|3", "3Y|6", "3Y|12", "6Y|3", "6Y|6", "6Y|12", "12Y|3", "12Y|6", "12Y|12"], "paddingInner": 0, "paddingOuter": 0}, "axis": {"title": null, "labelAngle": 0, "labelExpr": "split(datum.value, '|')[1]"}}}},
                  {"transform": [{"filter": {"field": "cat", "oneOf": ["3Y|6", "6Y|6", "12Y|6"]}}], "mark": {"type": "text", "fontSize": 16, "baseline": "top", "dy": 3, "color": "#111"},
                   "encoding": {"y": {"datum": 600, "type": "quantitative", "axis": null}, "text": {"field": "age"}}},
                  {"transform": [{"flatten": ["v"]}, {"window": [{"op": "row_number", "as": "rep"}], "groupby": ["gene", "cat"]}, {"filter": {"field": "rep", "oneOf": [1, 6, 11]}}], "mark": {"type": "circle", "fill": "white", "stroke": "#333", "strokeWidth": 1, "size": 30, "opacity": 1},
                   "encoding": {"x": {"field": "cat", "type": "nominal", "bandPosition": 0.5, "scale": {"domain": ["3Y|3", "3Y|6", "3Y|12", "6Y|3", "6Y|6", "6Y|12", "12Y|3", "12Y|6", "12Y|12"], "paddingInner": 0, "paddingOuter": 0}, "axis": {"title": null, "labelAngle": 0, "labelExpr": "split(datum.value, '|')[1]"}}, "y": {"field": "v", "type": "quantitative", "scale": {"domain": [0, 600], "nice": false}, "axis": {"title": null, "values": [0, 200, 400, 600]}}}},
                  {"transform": [{"flatten": ["v"]}, {"window": [{"op": "row_number", "as": "rep"}], "groupby": ["gene", "cat"]}, {"filter": {"field": "rep", "oneOf": [2, 7, 12]}}], "mark": {"type": "circle", "fill": "white", "stroke": "#333", "strokeWidth": 1, "size": 30, "opacity": 1},
                   "encoding": {"x": {"field": "cat", "type": "nominal", "bandPosition": 0.32, "scale": {"domain": ["3Y|3", "3Y|6", "3Y|12", "6Y|3", "6Y|6", "6Y|12", "12Y|3", "12Y|6", "12Y|12"], "paddingInner": 0, "paddingOuter": 0}, "axis": {"title": null, "labelAngle": 0, "labelExpr": "split(datum.value, '|')[1]"}}, "y": {"field": "v", "type": "quantitative", "axis": {"title": null, "values": [0, 200, 400, 600]}}}},
                  {"transform": [{"flatten": ["v"]}, {"window": [{"op": "row_number", "as": "rep"}], "groupby": ["gene", "cat"]}, {"filter": {"field": "rep", "oneOf": [3, 8]}}], "mark": {"type": "circle", "fill": "white", "stroke": "#333", "strokeWidth": 1, "size": 30, "opacity": 1},
                   "encoding": {"x": {"field": "cat", "type": "nominal", "bandPosition": 0.68, "scale": {"domain": ["3Y|3", "3Y|6", "3Y|12", "6Y|3", "6Y|6", "6Y|12", "12Y|3", "12Y|6", "12Y|12"], "paddingInner": 0, "paddingOuter": 0}, "axis": {"title": null, "labelAngle": 0, "labelExpr": "split(datum.value, '|')[1]"}}, "y": {"field": "v", "type": "quantitative", "axis": {"title": null, "values": [0, 200, 400, 600]}}}},
                  {"transform": [{"flatten": ["v"]}, {"window": [{"op": "row_number", "as": "rep"}], "groupby": ["gene", "cat"]}, {"filter": {"field": "rep", "oneOf": [4, 9]}}], "mark": {"type": "circle", "fill": "white", "stroke": "#333", "strokeWidth": 1, "size": 30, "opacity": 1},
                   "encoding": {"x": {"field": "cat", "type": "nominal", "bandPosition": 0.16, "scale": {"domain": ["3Y|3", "3Y|6", "3Y|12", "6Y|3", "6Y|6", "6Y|12", "12Y|3", "12Y|6", "12Y|12"], "paddingInner": 0, "paddingOuter": 0}, "axis": {"title": null, "labelAngle": 0, "labelExpr": "split(datum.value, '|')[1]"}}, "y": {"field": "v", "type": "quantitative", "axis": {"title": null, "values": [0, 200, 400, 600]}}}},
                  {"transform": [{"flatten": ["v"]}, {"window": [{"op": "row_number", "as": "rep"}], "groupby": ["gene", "cat"]}, {"filter": {"field": "rep", "oneOf": [5, 10]}}], "mark": {"type": "circle", "fill": "white", "stroke": "#333", "strokeWidth": 1, "size": 30, "opacity": 1},
                   "encoding": {"x": {"field": "cat", "type": "nominal", "bandPosition": 0.84, "scale": {"domain": ["3Y|3", "3Y|6", "3Y|12", "6Y|3", "6Y|6", "6Y|12", "12Y|3", "12Y|6", "12Y|12"], "paddingInner": 0, "paddingOuter": 0}, "axis": {"title": null, "labelAngle": 0, "labelExpr": "split(datum.value, '|')[1]"}}, "y": {"field": "v", "type": "quantitative", "axis": {"title": null, "values": [0, 200, 400, 600]}}}},
                  {"transform": [{"flatten": ["v"]}], "mark": {"type": "tick", "color": "black", "thickness": 2.5, "size": 13},
                   "encoding": {"y": {"aggregate": "mean", "field": "v", "type": "quantitative", "axis": null}}}
                ]
              }
            }
          ]
        }
      ]
    }
  ],
  "spacing": 25,
  "config": {
    "font": "Liberation Sans",
    "view": {"stroke": "#555", "strokeWidth": 1.5},
    "axis": {"domainColor": "#555", "domainWidth": 1.5, "tickColor": "#555", "tickWidth": 1.2, "tickSize": 4, "labelFontSize": 10, "labelColor": "#222", "labelPadding": 1, "grid": false},
    "header": {"labelFontSize": 14, "labelFontWeight": "bold", "labelFontStyle": "italic", "labelPadding": 4, "labelColor": "#111"},
    "title": {"color": "#111"}
  }
}
